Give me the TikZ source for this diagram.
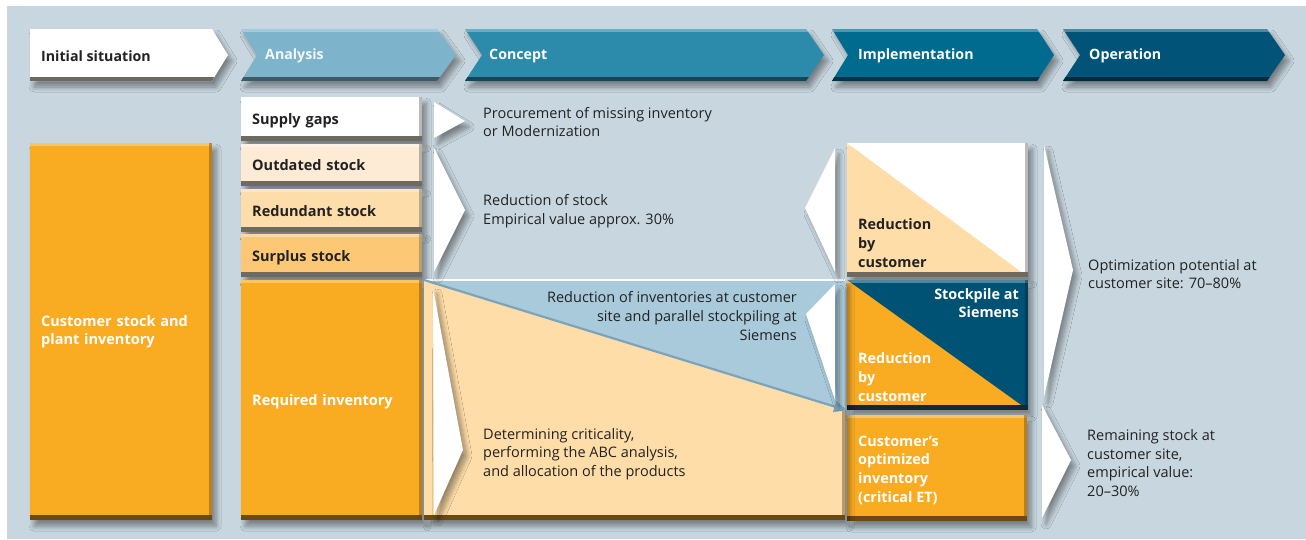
\documentclass[tikz,border=0pt]{standalone}
\usepackage{fontspec}
\setmainfont{Open Sans}
\usetikzlibrary{shadows.blur,arrows.meta}
\definecolor{bgcol}{HTML}{C8D6DF}
\definecolor{orng}{HTML}{F9AB22}
\definecolor{orngdark}{HTML}{6B4A12}
\definecolor{peach1}{HTML}{FDEBD6}
\definecolor{peach2}{HTML}{FDDDA9}
\definecolor{peach3}{HTML}{FDC876}
\definecolor{pale}{HTML}{FEDDA8}
\definecolor{ltblue}{HTML}{A9CADB}
\definecolor{arrblue}{HTML}{7AA3BC}
\definecolor{dkblue}{HTML}{005274}
\definecolor{dkbluedark}{HTML}{0B2A3A}
\definecolor{greydark}{HTML}{6E6A60}
\definecolor{hAna}{HTML}{7EB3CC}
\definecolor{hCon}{HTML}{2C8AAA}
\definecolor{hImp}{HTML}{006A8F}
\definecolor{hOpe}{HTML}{015478}
\definecolor{txt}{HTML}{222222}
\def\nonestr{none}
\tikzset{
  x=1pt, y=-1pt,
  shad/.style={blur shadow={shadow xshift=4pt, shadow yshift=-6pt, shadow blur radius=5pt, shadow opacity=40, shadow blur steps=8}},
  tri/.store in=\tricol, tri=none,
  bev/.store in=\bevcol, bev=orngdark,
  bevel/.style={path picture={
     \ifx\tricol\nonestr\else
       \fill[\tricol] (path picture bounding box.north west) -- (path picture bounding box.south east) -- (path picture bounding box.south west) -- cycle;
     \fi
     \fill[white,opacity=.3] (path picture bounding box.north west) rectangle ([yshift=-3pt]path picture bounding box.north east);
     \fill[\bevcol,opacity=.45] ([xshift=-3pt]path picture bounding box.north east) rectangle (path picture bounding box.south east);
     \fill[\bevcol] ([yshift=5pt]path picture bounding box.south west) rectangle (path picture bounding box.south east);
  }},
  box/.style={anchor=north west, inner xsep=11pt, inner ysep=0pt, align=left, shad, bevel, text depth=0pt,
     font=\bfseries\fontsize{14.5}{18.7}\selectfont, text=txt},
  body/.style={inner sep=0pt, align=left, font=\fontsize{14.5}{18.7}\selectfont, text=txt},
  bodyb/.style={inner sep=0pt, align=left, font=\bfseries\fontsize{14.4}{18.7}\selectfont, text=txt},
  hdr/.style={anchor=west, inner sep=0pt, font=\bfseries\fontsize{14.2}{17}\selectfont},
  wchev/.style={fill=white, shad},
}
\newcommand{\hdrshape}[6]{%
  \fill[#5, shad] (#1,29) -- (#3,29) -- (#4,55) -- (#3,81) -- (#1,81) -- (#2,55) -- cycle;
  \begin{scope}
    \clip (#1,29) -- (#3,29) -- (#4,55) -- (#3,81) -- (#1,81) -- (#2,55) -- cycle;
    \fill[#6] (#1,77) rectangle (#4,81);
    \fill[white, opacity=.3] (#1,29) rectangle (#4,32);
  \end{scope}
}
\begin{document}
\begin{tikzpicture}
\useasboundingbox (0,0) rectangle (1306,539);
\fill[white] (0,0) rectangle (1306,539);
\fill[bgcol] (7,6) rectangle (1306,539);

% header chevrons
\hdrshape{30}{30}{212}{228}{white}{greydark}
\hdrshape{241}{257}{437}{456}{hAna}{hAna!50!black}
\hdrshape{465}{482}{806}{824}{hCon}{hCon!50!black}
\hdrshape{832}{848}{1037}{1054}{hImp}{hImp!50!black}
\hdrshape{1063}{1080}{1267}{1285}{hOpe}{hOpe!50!black}
\node[hdr, text=txt] (h1) at (41,56) {Initial situation};
\node[hdr, text=white!90!hAna] (h2) at (265,56) {Analysis};
\node[hdr, text=white] (h3) at (489,56) {Concept};
\node[hdr, text=white] (h4) at (858,56) {Implementation};
\node[hdr, text=white] (h5) at (1089,56) {Operation};

% initial column
\node[box, text depth=, fill=orng, text=white, text width=160pt, minimum height=377pt] (cs) at (30,143) {Customer stock and\\plant inventory};

% analysis column
\node[box, fill=white, bev=greydark, text width=159pt, minimum height=44pt] (sg) at (241,97) {Supply gaps};
\node[box, fill=peach1, bev=greydark, text width=159pt, minimum height=42pt] (os) at (241,144) {Outdated stock};
\node[box, fill=peach2, bev=greydark, text width=159pt, minimum height=43pt] (rs) at (241,189) {Redundant stock};
\node[box, fill=peach3, bev=greydark, text width=159pt, minimum height=43pt] (ss) at (241,234) {Surplus stock};
\node[box, fill=orng, text=white, text width=159pt, minimum height=240pt] (ri) at (241,280) {Required inventory};

% implementation column
\node[box, fill=white, tri=pale, bev=greydark, minimum width=181pt, minimum height=134pt] (up) at (847,143) {};
\node[box, fill=dkblue, tri=orng, bev=dkbluedark, minimum width=181pt, minimum height=130pt] (mid) at (847,280) {};
\node[box, fill=orng, text=white, text width=158pt, minimum height=106pt] (low) at (847,415) {};

% concept lower box
\node[box, fill=pale, minimum width=421pt, minimum height=240pt] (cb) at (424,280) {};
\fill[ltblue] (cb.north west) -- (cb.north east) -- (cb.east |- mid.south west) -- cycle;
\draw[white, line width=1.5pt] (cb.north west) -- (cb.north east);
\draw[arrblue, line width=2.2pt, -{Triangle[length=13pt,width=11pt]}] (cb.north west) -- (mid.south west);

% white chevrons
\fill[wchev] (434,102) -- (465,121) -- (434,138) -- cycle;
\fill[wchev] (434,148) -- (465,210) -- (434,272) -- cycle;
\fill[wchev] (835,148) -- (805,208) -- (835,272) -- cycle;
\fill[wchev] (835,284) -- (806,314) -- (835,400) -- cycle;
\fill[wchev] (433,288) -- (463,450) -- (434,515) -- cycle;
\fill[wchev] (1044,145) -- (1073,270) -- (1044,397) -- cycle;
\fill[wchev] (1042,405) -- (1071,460) -- (1042,518) -- cycle;

% texts
\node[body, anchor=west] (t1) at (483,122) {Procurement of missing inventory\\or Modernization};
\node[body, anchor=west] (t2) at (483,211) {Reduction of stock\\Empirical value approx. 30\%};
\node[body, anchor=east, align=right] (t3) at (797,316) {Reduction of inventories at customer\\site and parallel stockpiling at\\Siemens};
\node[body, anchor=west] (t4) at (483,454) {Determining criticality,\\performing the ABC analysis,\\and allocation of the products};
\node[body, anchor=west] (t5) at (1088,274) {Optimization potential at\\customer site: 70–80\%};
\node[body, anchor=west] (t6) at (1087,463) {Remaining stock at\\customer site,\\empirical value:\\20–30\%};

\node[bodyb, anchor=west] (r1) at (858,243) {Reduction\\by\\customer};
\node[bodyb, anchor=east, align=right, text=white] (sp) at (1019,303) {Stockpile at\\Siemens};
\node[bodyb, anchor=west, text=white] (r2) at (858,377) {Reduction\\by\\customer};
\node[bodyb, anchor=west, text=white] (co) at (858,470) {Customer’s\\optimized\\inventory\\(critical ET)};
\end{tikzpicture}
\end{document}
